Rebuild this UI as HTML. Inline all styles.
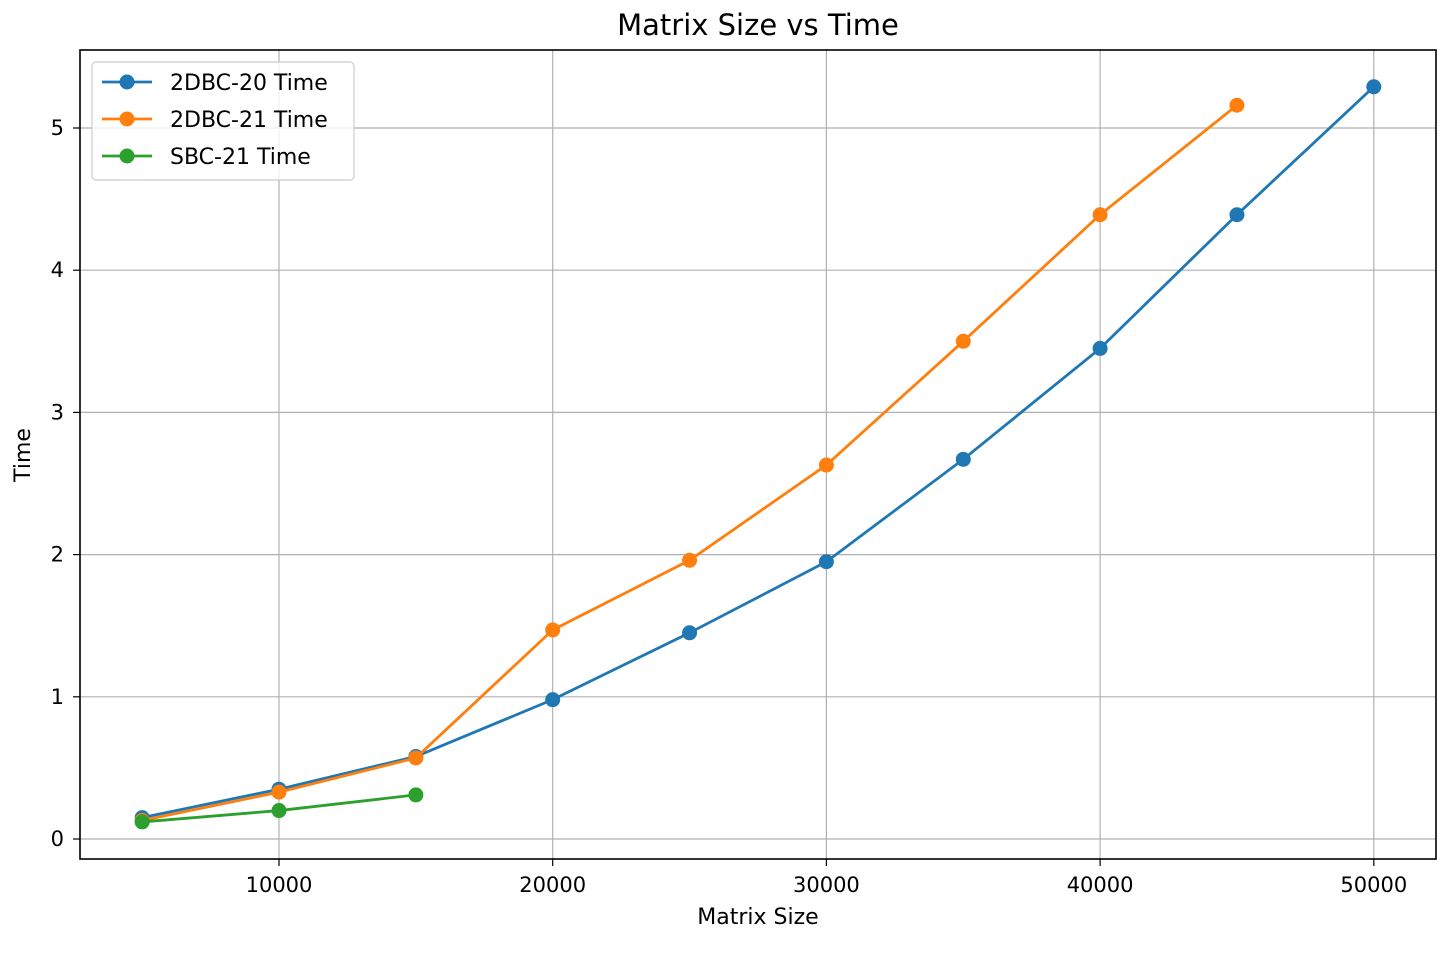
<!DOCTYPE html>
<html><head><meta charset="utf-8"><style>
body{margin:0;background:#fff;}
svg{font-family:"DejaVu Sans","Liberation Sans",sans-serif;}
</style></head><body>
<svg id="chart" width="1452" height="948" xmlns="http://www.w3.org/2000/svg">
<rect width="1452" height="948" fill="#fff"/>
<text x="758" y="35" font-size="29" text-anchor="middle" fill="#000">Matrix Size vs Time</text>
<g id="grid"></g><g id="ticks"></g><g id="series"></g>
<rect x="80" y="50" width="1356" height="809" fill="none" stroke="#000" stroke-width="1.6"/>
<text x="758" y="924" font-size="22" text-anchor="middle">Matrix Size</text>
<text x="30" y="455" font-size="22" text-anchor="middle" transform="rotate(-90 30 455)">Time</text>
<g id="legend"></g>
</svg>
<script>
const xs=[5000,10000,15000,20000,25000,30000,35000,40000,45000,50000];
const blue=[0.15,0.35,0.58,0.98,1.45,1.95,2.67,3.45,4.39,5.29];
const orange=[0.13,0.33,0.57,1.47,1.96,2.63,3.50,4.39,5.16];
const green=[0.12,0.20,0.31];
const xTicks=[10000,20000,30000,40000,50000];
const yTicks=[0,1,2,3,4,5];
const names=["2DBC-20 Time","2DBC-21 Time","SBC-21 Time"];
const colors=["#1f77b4","#ff7f0e","#2ca02c"];
function X(v){return 279+(v-10000)*0.02737;}
function Y(v){return 839-v*142.2;}
const NS="http://www.w3.org/2000/svg";
function mk(tag,attrs,parent){const e=document.createElementNS(NS,tag);for(const k in attrs)e.setAttribute(k,attrs[k]);document.getElementById(parent).appendChild(e);return e;}
xTicks.forEach(t=>{
 const g=mk('line',{x1:X(t),x2:X(t),y1:50,y2:859,stroke:'#b0b0b0','stroke-width':1.2},'grid');
 
 
 mk('line',{x1:X(t),x2:X(t),y1:859,y2:866,stroke:'#000','stroke-width':1.2},'ticks');
 const tx=mk('text',{x:X(t),y:892,'font-size':21,'text-anchor':'middle'},'ticks');
 tx.textContent=t;
 
 
});
yTicks.forEach(t=>{
 const g=mk('line',{x1:80,x2:1436,y1:Y(t),y2:Y(t),stroke:'#b0b0b0','stroke-width':1.2},'grid');
 
 
 mk('line',{x1:73,x2:80,y1:Y(t),y2:Y(t),stroke:'#000','stroke-width':1.2},'ticks');
 const tx=mk('text',{x:64,y:Y(t)+7,'font-size':21,'text-anchor':'end'},'ticks');
 tx.textContent=t;
 
 
});
[blue,orange,green].forEach((s,i)=>{
 const pts=s.map((v,j)=>X(xs[j])+','+Y(v)).join(' ');
 const pl=mk('polyline',{points:pts,fill:'none',stroke:colors[i],'stroke-width':2.8},'series');
 
 
 s.forEach((v,j)=>{
  const c=mk('circle',{cx:X(xs[j]),cy:Y(v),r:7.5,fill:colors[i]},'series');
  
  
 });
});
const lb=mk('rect',{x:92,y:62,width:262,height:118,rx:4,fill:'#fff','fill-opacity':0.8,stroke:'#ccc','stroke-width':1.2},'legend');


names.forEach((n,i)=>{
 const y=82+i*37;
 mk('line',{x1:102,x2:152,y1:y,y2:y,stroke:colors[i],'stroke-width':2.8},'legend');
 mk('circle',{cx:127,cy:y,r:7.5,fill:colors[i]},'legend');
 const t=mk('text',{x:170,y:y+8,'font-size':22},'legend');
 t.textContent=n;
 
 
});
</script>
</body></html>
